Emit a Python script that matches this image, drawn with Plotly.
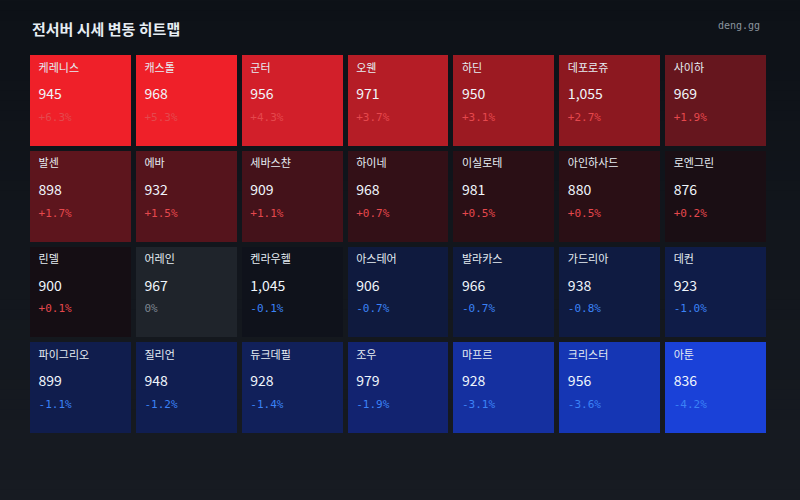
import plotly.graph_objects as go

# ---- data ----
servers = ["케레니스", "캐스톨", "군터", "오웬", "하딘", "데포로쥬", "사이하",
           "발센", "에바", "세바스챤", "하이네", "이실로테", "아인하사드", "로엔그린",
           "린델", "어레인", "켄라우헬", "아스테어", "발라카스", "가드리아", "데컨",
           "파이그리오", "질리언", "듀크데필", "조우", "마프르", "크리스터", "아툰"]
prices = [945, 968, 956, 971, 950, 1055, 969,
          898, 932, 909, 968, 981, 880, 876,
          900, 967, 1045, 906, 966, 938, 923,
          899, 948, 928, 979, 928, 956, 836]
changes = [6.3, 5.3, 4.3, 3.7, 3.1, 2.7, 1.9,
           1.7, 1.5, 1.1, 0.7, 0.5, 0.5, 0.2,
           0.1, 0.0, -0.1, -0.7, -0.7, -0.8, -1.0,
           -1.1, -1.2, -1.4, -1.9, -3.1, -3.6, -4.2]
NCOLS = 7

# ---- styles ----
ZMAX = 5.0
anchors = [(-5.0, "#1e4cff"), (-4.2, "#1a41d8"), (-3.6, "#1536b4"), (-3.1, "#1530a0"),
           (-1.9, "#122370"), (-1.4, "#11205a"), (-1.0, "#0f1c48"), (-0.7, "#0f1a3e"),
           (-0.1, "#0f121b"), (-0.01, "#0f121b"), (0.0, "#1f242b"), (0.01, "#140e14"),
           (0.1, "#150e14"), (0.5, "#2a0f15"), (1.1, "#44121a"), (1.9, "#66161e"),
           (2.7, "#8c1820"), (3.7, "#b51d26"), (4.3, "#d21f2a"), (5.0, "#ef2029")]
colorscale = [[(p + ZMAX) / (2 * ZMAX), c] for p, c in anchors]

POS_COLOR = "#e5484d"
NEG_COLOR = "#3b82f6"
ZERO_COLOR = "#7d8590"
KR_FONT = "Noto Sans CJK KR, Noto Sans, sans-serif"
MONO_FONT = "DejaVu Sans Mono, Liberation Mono, monospace"

nrows = (len(servers) + NCOLS - 1) // NCOLS
cols = [i % NCOLS for i in range(len(servers))]
rows = [i // NCOLS for i in range(len(servers))]

z = [[None] * NCOLS for _ in range(nrows)]
for i, ch in enumerate(changes):
    z[rows[i]][cols[i]] = max(-ZMAX, min(ZMAX, ch))

fig = go.Figure()
fig.add_trace(go.Heatmap(
    z=z, x=list(range(NCOLS)), y=list(range(nrows)),
    colorscale=colorscale, zmin=-ZMAX, zmax=ZMAX, showscale=False,
    xgap=5, ygap=5, hoverinfo="skip"))

def fmt_pct(v):
    if v == 0:
        return "0%"
    return f"{v:+.1f}%"

pct_colors = [POS_COLOR if v > 0 else (NEG_COLOR if v < 0 else ZERO_COLOR) for v in changes]
tx = [c - 0.4 for c in cols]

fig.add_trace(go.Scatter(
    x=tx, y=[r - 0.335 for r in rows], mode="text", text=servers,
    textposition="middle right", hoverinfo="skip",
    textfont=dict(family=KR_FONT, size=11, color="#e6edf3")))
fig.add_trace(go.Scatter(
    x=tx, y=[r - 0.055 for r in rows], mode="text", text=[f"{p:,}" for p in prices],
    textposition="middle right", hoverinfo="skip",
    textfont=dict(family=KR_FONT, size=14, color="#f0f6fc")))
fig.add_trace(go.Scatter(
    x=tx, y=[r + 0.18 for r in rows], mode="text", text=[fmt_pct(v) for v in changes],
    textposition="middle right", hoverinfo="skip",
    textfont=dict(family=MONO_FONT, size=11, color=pct_colors)))

# background vertical gradient (bands)
top_rgb = (13, 17, 23)
bot_rgb = (23, 27, 34)
NB = 50
H = 500.0
T, B = 52.5, 63.5
ph = H - T - B
shapes = []
for k in range(NB):
    py0 = H * k / NB
    py1 = H * (k + 1) / NB + 1
    f = (k + 0.5) / NB
    col = tuple(round(top_rgb[j] + (bot_rgb[j] - top_rgb[j]) * f) for j in range(3))
    shapes.append(dict(type="rect", xref="paper", yref="paper", layer="below",
                       x0=-0.1, x1=1.1,
                       y0=(H - B - py1) / ph, y1=(H - B - py0) / ph,
                       fillcolor="rgb(%d,%d,%d)" % col, line=dict(width=0)))

fig.update_layout(
    width=800, height=500,
    margin=dict(l=27.5, r=30.5, t=T, b=B),
    paper_bgcolor="#0f131a", plot_bgcolor="rgba(0,0,0,0)",
    shapes=shapes,
    showlegend=False,
    xaxis=dict(range=[-0.5, NCOLS - 0.5], visible=False, fixedrange=True),
    yaxis=dict(range=[nrows - 0.5, -0.5], visible=False, fixedrange=True),
    annotations=[
        dict(text="<b>전서버 시세 변동 히트맵</b>", xref="paper", yref="paper",
             x=(30 - 27.5) / 742, y=(H - B - 28) / ph, xanchor="left", yanchor="middle",
             showarrow=False, font=dict(family=KR_FONT, size=15, color="#e6edf3")),
        dict(text="deng.gg", xref="paper", yref="paper",
             x=(762 - 27.5) / 742, y=(H - B - 25) / ph, xanchor="right", yanchor="middle",
             showarrow=False, font=dict(family=MONO_FONT, size=10, color="#8b949e")),
    ],
)

fig.write_html("out.html")
